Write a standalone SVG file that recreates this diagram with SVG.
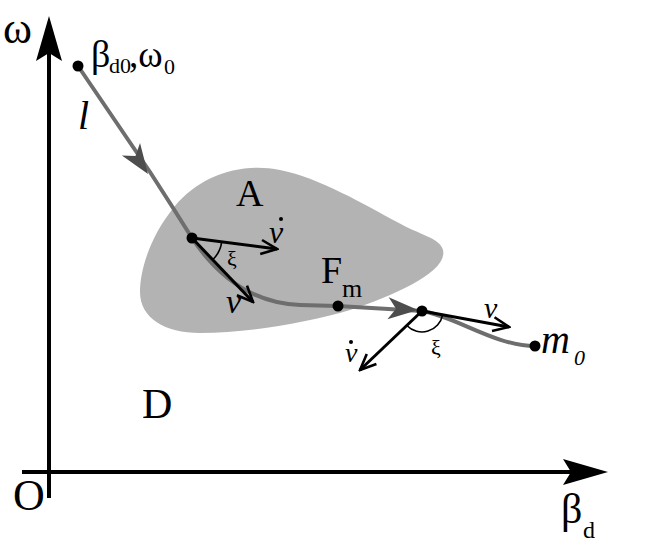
<svg xmlns="http://www.w3.org/2000/svg" width="657" height="552" viewBox="0 0 657 552">
<style>
.t{font-family:"Liberation Serif","Times New Roman",serif;fill:#000}
.i{font-style:italic}
.axis{stroke:#000;stroke-width:4;fill:none}
.traj{stroke:#6e6e6e;stroke-width:4;fill:none}
.vec{stroke:#000;stroke-width:3;fill:none}
.dot{fill:#000}
.ah{fill:#4d4d4d}
.arc{stroke:#000;stroke-width:1.6;fill:none}
</style>
<defs>
<path id="tri" d="M0,0 L-30,-11 L-22,0 L-30,11 Z"/>
<marker id="open" viewBox="0 0 20 20" refX="18" refY="10" markerWidth="20" markerHeight="20" markerUnits="userSpaceOnUse" orient="auto">
<path d="M2,3 L18,10 L2,17" fill="none" stroke="#000" stroke-width="2.6"/>
</marker>
</defs>
<rect width="657" height="552" fill="#fff"/>
<g id="regionA">
<path d="M443,250 C440,238 420,235 397,222 C365,205 320,178 280,170 C240,162 200,176 175,206 C150,236 140,270 140,292 C140,318 165,333 200,333 C250,333 310,322 350,310 C395,295 448,272 443,250 Z" fill="#b3b3b3"/>
</g>
<g id="axes">
<line class="axis" x1="49" y1="40" x2="49" y2="498"/>
<line class="axis" x1="22" y1="472" x2="585" y2="472"/>
<path d="M49,16 L62,61 L49,53 L36,61 Z" fill="#000"/>
<path d="M608,472 L563,459 L571,472 L563,485 Z" fill="#000"/>
</g>
<g id="connectors">
<path id="traj" class="traj" d="M78,66 L150,172 Q172,206 192,238 C212,268 245,303 300,305 L338,306 L422,311 C455,316 495,346 535,346"/>
<use href="#tri" class="ah" transform="translate(148,174) rotate(55.4)"/>
<use href="#tri" class="ah" transform="translate(418,310) rotate(3.4)"/>
<line class="vec" x1="192" y1="238" x2="277" y2="249" marker-end="url(#open)"/>
<line class="vec" x1="192" y1="238" x2="253" y2="302" marker-end="url(#open)"/>
<line class="vec" x1="422" y1="311" x2="509" y2="327" marker-end="url(#open)"/>
<line class="vec" x1="422" y1="311" x2="360" y2="370" marker-end="url(#open)"/>
<path class="arc" d="M221.7,241.9 A30,30 0 0 1 212.8,259.6"/>
<path class="arc" d="M442.6,314.8 A21,21 0 0 1 406.8,325.5"/>
</g>
<g id="n-start"><circle class="dot" cx="78" cy="66" r="5.5"/>
<text class="t" x="91" y="67" font-size="38">β</text><text class="t" x="109" y="73" font-size="22">d0</text><text class="t" x="129" y="67" font-size="37">,ω</text><text class="t" x="164" y="74" font-size="22">0</text></g>
<g id="n-p1"><circle class="dot" cx="192" cy="238" r="5.5"/></g>
<g id="n-fm"><circle class="dot" cx="338" cy="306" r="5.5"/>
<text class="t" x="321" y="283" font-size="38">F</text><text class="t" x="342" y="297" font-size="26">m</text></g>
<g id="n-p2"><circle class="dot" cx="422" cy="311" r="5.5"/></g>
<g id="n-m0"><circle class="dot" cx="535" cy="346" r="5.5"/>
<text class="t i" x="541" y="353" font-size="40">m</text><text class="t i" x="574" y="365" font-size="22">0</text></g>
<g id="labels">
<text class="t" x="3" y="43" font-size="44">ω</text>
<text class="t" x="13" y="510" font-size="44">O</text>
<text class="t" x="561" y="523" font-size="42">β</text><text class="t" x="583" y="538" font-size="24">d</text>
<text class="t i" x="78" y="129" font-size="40">l</text>
<text class="t" x="236" y="206" font-size="38">A</text>
<text class="t" x="142" y="418" font-size="42">D</text>
<text class="t i" x="269" y="243" font-size="32">ν</text><circle class="dot" cx="281" cy="219" r="2"/>
<text class="t i" x="226" y="313" font-size="34">ν</text>
<text class="t" x="227" y="266" font-size="22" fill="#333">ξ</text>
<text class="t i" x="484" y="318" font-size="30">ν</text>
<text class="t i" x="345" y="362" font-size="28">ν</text><circle class="dot" cx="351" cy="342" r="2"/>
<text class="t" x="431" y="355" font-size="22" fill="#333">ξ</text>
</g>
</svg>
